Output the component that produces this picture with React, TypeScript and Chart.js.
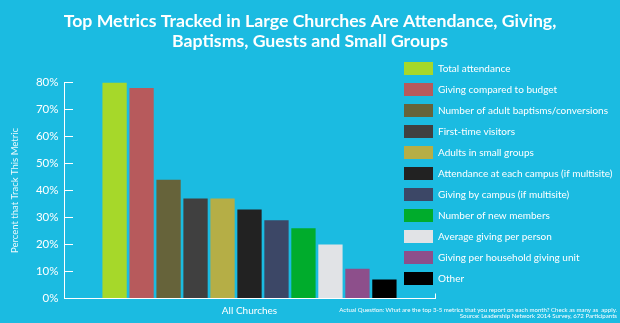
import React, { useEffect, useRef } from 'react';
import { Chart, registerables } from 'chart.js';

Chart.register(...registerables);

const FONT = "Lato, 'Open Sans', sans-serif";

const titleLines = [
  'Top Metrics Tracked in Large Churches Are Attendance, Giving,',
  'Baptisms, Guests and Small Groups',
];
const footnoteLines = [
  'Actual Question: What are the top 3-5 metrics that you report on each month? Check as many as  apply.',
  'Source: Leadership Network 2014 Survey, 672 Participants',
];
const categories = ['All Churches'];
const metricLabels = [
  'Total attendance',
  'Giving compared to budget',
  'Number of adult baptisms/conversions',
  'First-time visitors',
  'Adults in small groups',
  'Attendance at each campus (if multisite)',
  'Giving by campus (if multisite)',
  'Number of new members',
  'Average giving per person',
  'Giving per household giving unit',
  'Other',
];
const metricValues = [80, 78, 44, 37, 37, 33, 29, 26, 20, 11, 7];
const metricColors = [
  '#a6d82a',
  '#b75a5c',
  '#66633a',
  '#404040',
  '#b5ae46',
  '#222222',
  '#3c4766',
  '#00ac2c',
  '#e1e3e6',
  '#8d4f8b',
  '#000000',
];
const yAxisTitle = 'Percent that Track This Metric';
const yMin = 0;
const yMax = 80;
const yStep = 10;

const BG = '#1bbbe1';

const legendMover = {
  id: 'legendMover',
  afterLayout(chart: any) {
    const l = chart.legend;
    if (!l) return;
    const h = l.height;
    l.left = 396;
    l.right = 620;
    l.top = 54;
    l.bottom = 54 + h;
  },
};

export default function App() {
  const canvasRef = useRef<HTMLCanvasElement | null>(null);

  useEffect(() => {
    document.body.style.margin = '0';
    document.body.style.background = BG;
    const canvas = canvasRef.current;
    if (!canvas) return;
    const chart = new Chart(canvas, {
      type: 'bar',
      data: {
        labels: categories,
        datasets: metricLabels.map((label, i) => ({
          label,
          data: [metricValues[i]],
          backgroundColor: metricColors[i],
          borderWidth: 0,
          categoryPercentage: 0.8,
          barPercentage: 0.9,
        })),
      },
      options: {
        responsive: false,
        animation: false,
        maintainAspectRatio: false,
        layout: { padding: { left: 3, right: 3, top: 0, bottom: 0 } },
        plugins: {
          tooltip: { enabled: false },
          title: {
            display: true,
            text: titleLines,
            color: '#ffffff',
            font: { family: FONT, size: 17.7, weight: 'bold', lineHeight: '20px' },
            padding: { top: 11.5, bottom: 31 },
          },
          subtitle: {
            display: true,
            position: 'bottom',
            align: 'end',
            text: footnoteLines,
            color: '#ffffff',
            font: { family: FONT, size: 6.1, lineHeight: '6px' },
            padding: { top: -7, bottom: 3.5 },
          },
          legend: {
            display: true,
            position: 'right',
            align: 'start',
            maxWidth: 182,
            labels: {
              color: '#ffffff',
              boxWidth: 29,
              boxHeight: 13,
              padding: 8,
              font: { family: FONT, size: 10 },
            },
          },
        },
        scales: {
          x: {
            offset: true,
            grid: {
              display: true,
              offset: true,
              drawOnChartArea: false,
              drawTicks: true,
              tickLength: -5,
              color: '#ffffff',
              lineWidth: 1,
            },
            border: { display: true, color: '#ffffff', width: 1 },
            ticks: {
              color: '#ffffff',
              padding: 11,
              font: { family: FONT, size: 10 },
            },
            afterFit: (scale: any) => {
              scale.height = 16;
            },
          },
          y: {
            min: yMin,
            max: yMax,
            grid: {
              display: true,
              drawOnChartArea: false,
              drawTicks: true,
              tickLength: -9,
              color: '#ffffff',
              lineWidth: 1,
            },
            border: { display: true, color: '#ffffff', width: 1 },
            ticks: {
              stepSize: yStep,
              color: '#ffffff',
              padding: 14.5,
              font: { family: FONT, size: 11.5 },
              callback: (v: any) => v + '%',
            },
            title: {
              display: true,
              text: yAxisTitle,
              color: 'rgba(255,255,255,0.92)',
              font: { family: FONT, size: 9.5 },
              padding: { top: 6.3, bottom: 0 },
            },
            afterFit: (scale: any) => {
              scale.width = 61;
            },
          },
        },
      },
      plugins: [legendMover],
    } as any);
    return () => {
      chart.destroy();
    };
  }, []);

  return (
    <div style={{ width: 620, height: 323, background: BG }}>
      <canvas ref={canvasRef} width={620} height={323} style={{ display: 'block' }} />
    </div>
  );
}
